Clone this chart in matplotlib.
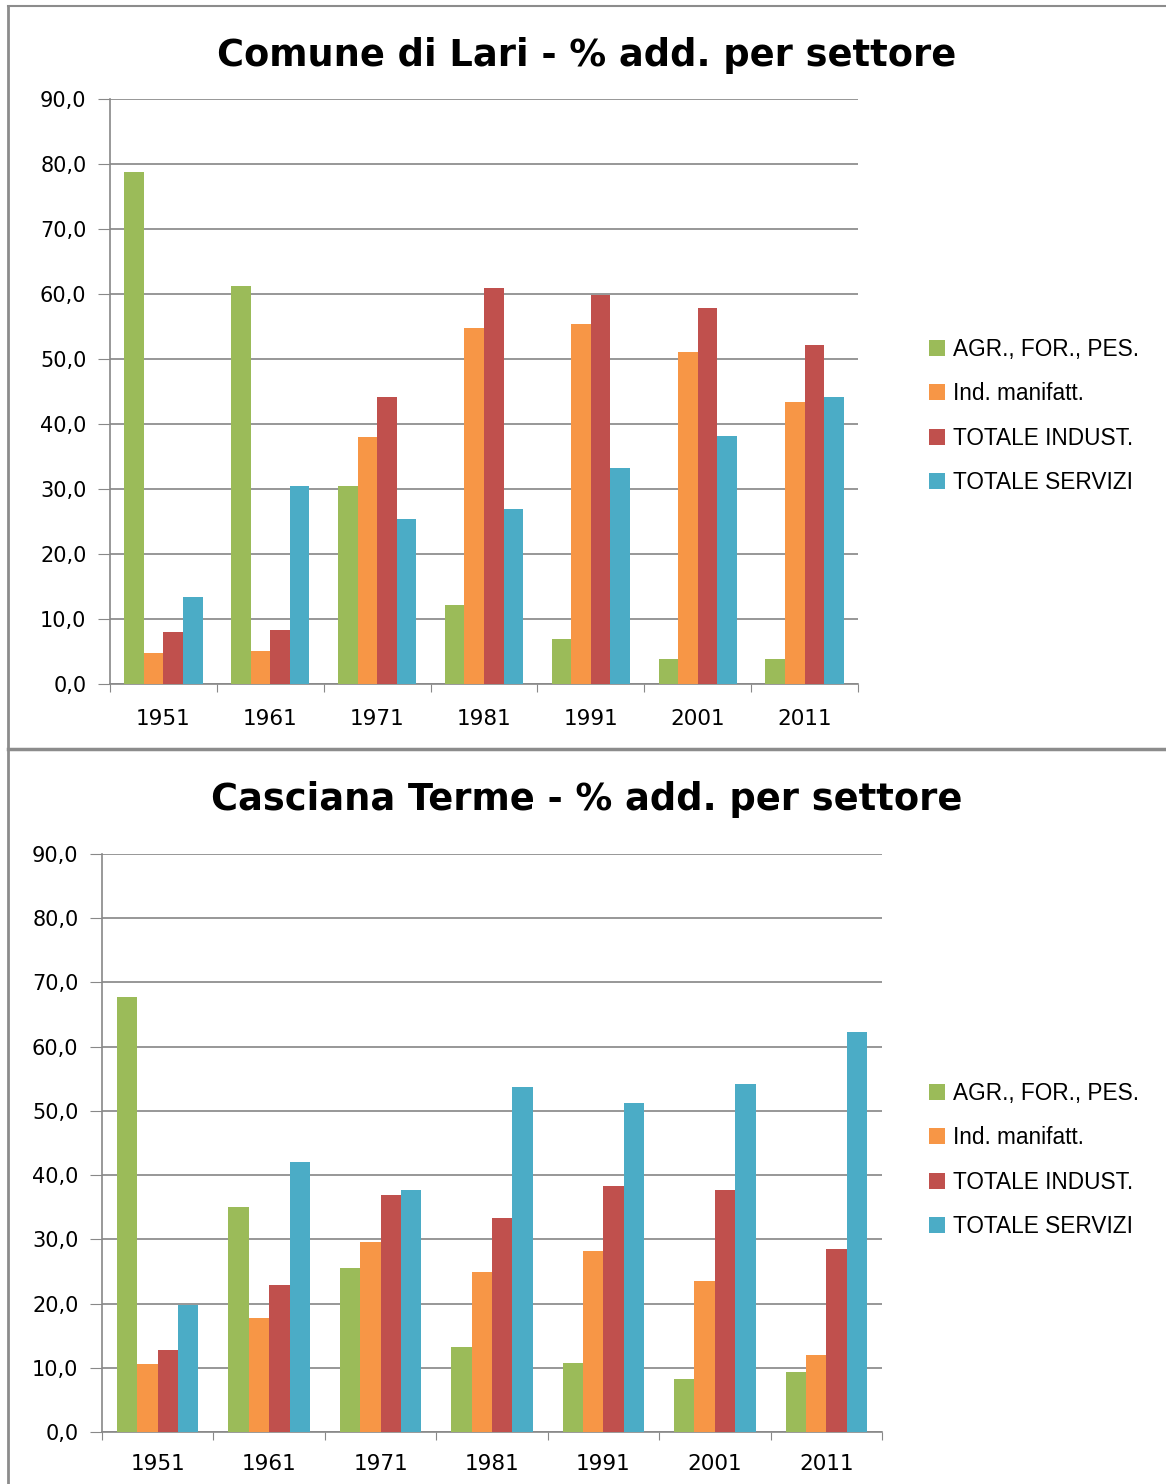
import matplotlib.pyplot as plt
from matplotlib.lines import Line2D
from matplotlib.patches import Patch
import numpy as np

W, H = 1166, 1484

anni = ["1951", "1961", "1971", "1981", "1991", "2001", "2011"]
settori = ["AGR., FOR., PES.", "Ind. manifatt.", "TOTALE INDUST.", "TOTALE SERVIZI"]
colori = ["#9BBB59", "#F79646", "#C0504D", "#4BACC6"]

# Comune di Lari
lari_agr = [78.8, 61.2, 30.5, 12.2, 6.9, 3.8, 3.8]
lari_man = [4.8, 5.1, 38.0, 54.8, 55.4, 51.1, 43.4]
lari_ind = [8.0, 8.3, 44.2, 60.9, 59.8, 57.8, 52.2]
lari_ser = [13.4, 30.5, 25.4, 26.9, 33.2, 38.2, 44.2]

# Casciana Terme
casc_agr = [67.8, 35.0, 25.5, 13.2, 10.7, 8.3, 9.3]
casc_man = [10.6, 17.8, 29.6, 24.9, 28.2, 23.5, 12.0]
casc_ind = [12.8, 22.9, 36.9, 33.3, 38.3, 37.7, 28.5]
casc_ser = [19.8, 42.1, 37.7, 53.7, 51.2, 54.2, 62.3]

fig = plt.figure(figsize=(W / 100, H / 100), dpi=100)


def px_axes(x0, y0, x1, y1):
    # pixel box (top-left origin) -> figure axes
    return fig.add_axes([x0 / W, 1 - y1 / H, (x1 - x0) / W, (y1 - y0) / H])


def draw_chart(ax, serie, titolo, title_y, leg_y, xpad):
    x = np.arange(len(anni))
    bw = 0.183
    for i, vals in enumerate(serie):
        ax.bar(x + (i - 1.5) * bw, vals, width=bw, color=colori[i], zorder=3)
    ax.set_xlim(-0.5, len(anni) - 0.5)
    ax.set_ylim(0, 90)
    ax.set_yticks(np.arange(0, 91, 10))
    ax.set_yticklabels([f"{v:.1f}".replace(".", ",") for v in np.arange(0, 91, 10)])
    ax.yaxis.grid(True, color="#858585", linewidth=1.2, zorder=0)
    ax.set_xticks(np.arange(-0.5, len(anni), 1.0))
    ax.set_xticklabels([])
    ax.set_xticks(x, minor=True)
    ax.set_xticklabels(anni, minor=True)
    ax.tick_params(axis="x", which="minor", length=0, pad=xpad, labelsize=15.5)
    ax.tick_params(axis="x", which="major", length=6, color="#888888", direction="out")
    ax.tick_params(axis="y", length=9, color="#888888", pad=8, labelsize=15)
    for s in ["top", "right"]:
        ax.spines[s].set_visible(False)
    for s in ["left", "bottom"]:
        ax.spines[s].set_color("#888888")
        ax.spines[s].set_linewidth(1.2)
    fig.text(587 / W, 1 - title_y / H, titolo, ha="center", va="center",
             fontsize=26.5, fontweight="bold")
    handles = [Patch(facecolor=c, edgecolor="none") for c in colori]
    fig.legend(handles, settori, loc="upper left",
               bbox_to_anchor=(929 / W, 1 - leg_y / H), frameon=False,
               prop={"family": "Liberation Sans", "size": 16.3},
               handlelength=0.7, handleheight=0.7, handletextpad=0.38,
               labelspacing=0.94, borderpad=0, borderaxespad=0)


ax1 = px_axes(110, 99, 858, 684)
draw_chart(ax1, [lari_agr, lari_man, lari_ind, lari_ser],
           "Comune di Lari - % add. per settore", 55, 338, 18)

ax2 = px_axes(102, 854, 882, 1432)
draw_chart(ax2, [casc_agr, casc_man, casc_ind, casc_ser],
           "Casciana Terme - % add. per settore", 799, 1082, 16)

# panel borders
grigio = "#8c8c8c"
fig.add_artist(Line2D([8 / W, 1], [1 - 6 / H, 1 - 6 / H], color=grigio, lw=1.5))
fig.add_artist(Line2D([8 / W, 8 / W], [1 - 6 / H, 0], color=grigio, lw=2))
fig.add_artist(Line2D([8 / W, 1], [1 - 749 / H, 1 - 749 / H], color=grigio, lw=2.5))

fig.savefig("out.png", dpi=100)
